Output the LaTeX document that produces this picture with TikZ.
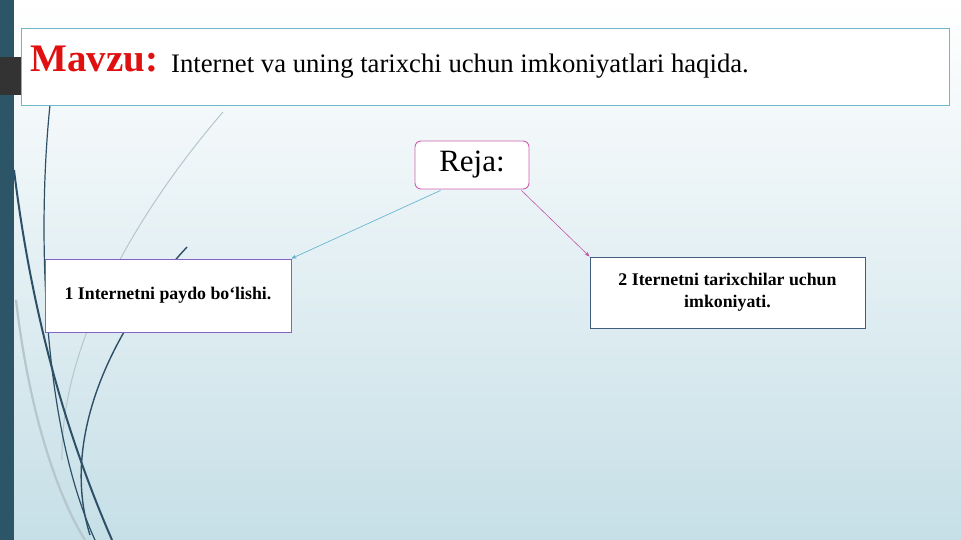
\documentclass[tikz,border=0pt]{standalone}
\usepackage{fontspec}
\setmainfont{Liberation Serif}
\usetikzlibrary{arrows.meta}
\definecolor{bgtop}{HTML}{FFFFFF}
\definecolor{bgbot}{HTML}{C6DFE7}
\definecolor{barcol}{HTML}{2D5568}
\definecolor{graybar}{HTML}{333333}
\definecolor{titleline}{HTML}{6DB8C8}
\definecolor{rejaline}{HTML}{D45FB0}
\definecolor{boxone}{HTML}{8464C0}
\definecolor{boxtwo}{HTML}{405C7E}
\definecolor{arrowblue}{HTML}{5AAECF}
\definecolor{arrowpink}{HTML}{C455A8}
\definecolor{mavred}{HTML}{E01010}
\definecolor{swirl}{HTML}{2E5067}
\definecolor{swirllight}{HTML}{B5C6CC}
\tikzset{
  planbox/.style={draw, fill=white, line width=0.9pt, align=center, font=\bfseries\fontsize{17.8}{22}\selectfont, inner sep=0pt},
  conn/.style={line width=0.6pt, -{Stealth[length=5pt,width=4pt]}},
}
\begin{document}
\begin{tikzpicture}[x=1pt,y=-1pt]
\useasboundingbox (0,0) rectangle (961,540);
% background
\shade[top color=bgtop, bottom color=bgbot] (0,0) rectangle (961,540);
\fill[barcol] (0,0) rectangle (14,540);
\fill[graybar] (0,57) rectangle (21,95);
% swirls
\draw[swirllight, line width=2.2pt] (16,300) .. controls (30,420) and (60,500) .. (85,540);
\draw[swirllight, line width=1pt] (223,112) .. controls (130,220) and (60,350) .. (62,460);
\draw[swirl, line width=2pt] (14,170) .. controls (30,300) and (60,420) .. (112,540);
\draw[swirl, line width=1.2pt] (50,105) .. controls (38,220) and (40,420) .. (95,540);
\draw[swirl, line width=1.4pt] (187,247) .. controls (110,330) and (60,440) .. (90,535);
% title
\node[draw=titleline, fill=white, line width=0.9pt, minimum width=928pt, minimum height=77pt, inner sep=0pt] (title) at (485,66.5) {};
\node[anchor=base west, inner sep=0pt, text=mavred, font=\bfseries\fontsize{39}{44}\selectfont] (mavzu) at (30,72) {Mavzu:};
\node[anchor=base west, inner sep=0pt, font=\fontsize{26.7}{30}\selectfont] (subj) at (171,73) {Internet va uning tarixchi uchun imkoniyatlari haqida.};
% plan
\node[draw=rejaline, fill=white, line width=0.9pt, rounded corners=6pt, minimum width=114pt, minimum height=48pt, inner sep=0pt, font=\fontsize{31}{34}\selectfont] (reja) at (472,165) {Reja:};
\node[planbox, draw=boxone, minimum width=246pt, minimum height=73pt] (b1) at (168,295.5) {1 Internetni paydo bo‘lishi.};
\node[planbox, draw=boxtwo, minimum width=275pt, minimum height=71pt] (b2) at (727.5,292.5) {2 Iternetni tarixchilar uchun\\imkoniyati.};
\draw[conn, arrowblue] (reja.south west) ++(26,1) coordinate (s1) (s1) -- (b1.north east);
\draw[conn, arrowpink] (reja.south east) ++(-8,1) coordinate (s2) (s2) -- (b2.north west);
\end{tikzpicture}
\end{document}
